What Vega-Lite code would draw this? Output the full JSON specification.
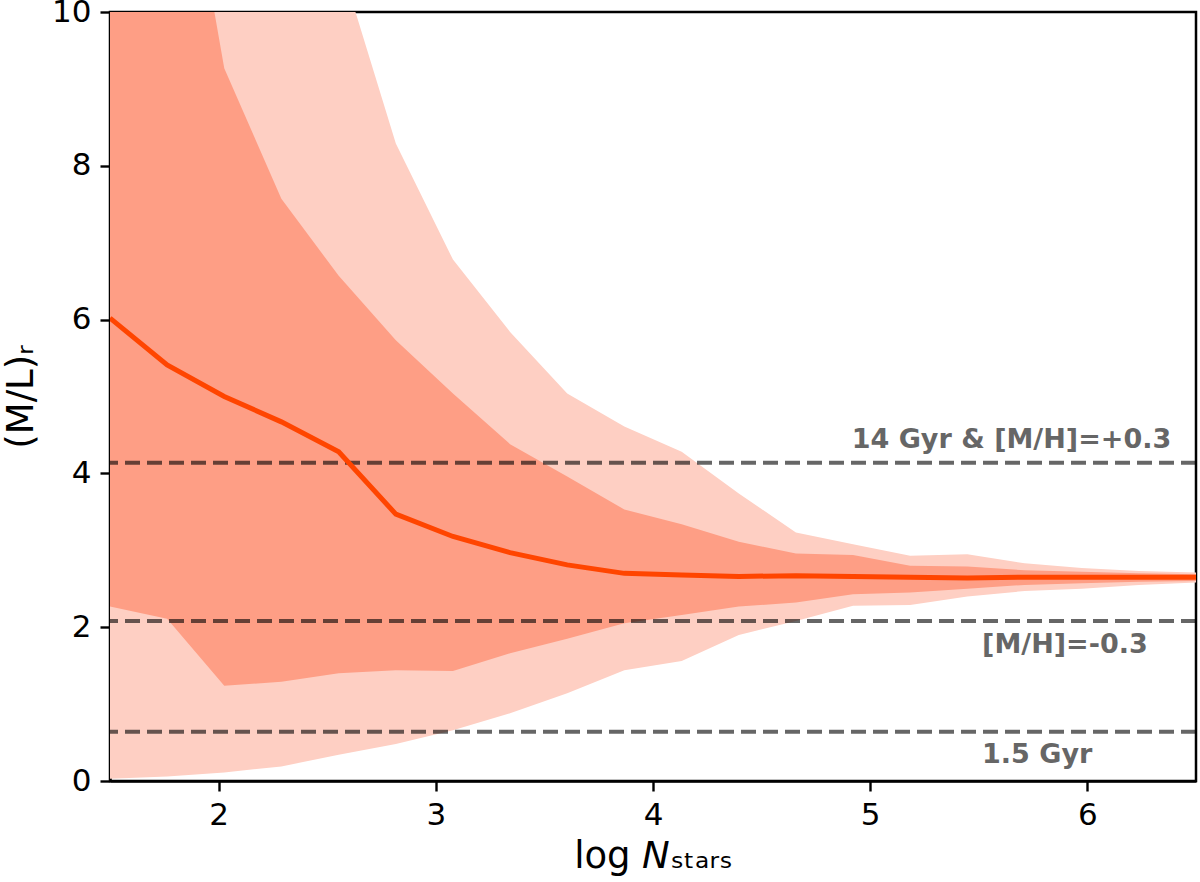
{
  "$schema": "https://vega.github.io/schema/vega-lite/v6.json",
  "width": 1086,
  "height": 769,
  "autosize": {"type": "none"},
  "padding": {"left": 110, "top": 12, "right": 4, "bottom": 101},
  "background": "#ffffff",
  "config": {
    "font": "DejaVu Sans",
    "view": {"stroke": "#000000", "strokeWidth": 2.5},
    "axis": {
      "grid": false,
      "domainColor": "#000000",
      "domainWidth": 2.5,
      "tickColor": "#000000",
      "tickWidth": 2.4,
      "tickSize": 10,
      "labelFont": "DejaVu Sans",
      "labelFontSize": 31,
      "labelColor": "#000000",
      "labelPadding": 9,
      "titleFont": "DejaVu Sans",
      "titleFontSize": 37,
      "titleFontWeight": "normal",
      "titleColor": "#000000"
    }
  },
  "datasets": {
    "mass_to_light": [
      {"logN": 1.5, "med": 6.02, "lo1": 2.27, "hi1": 16.0, "lo2": 0.03, "hi2": 30.0},
      {"logN": 1.763, "med": 5.41, "lo1": 2.11, "hi1": 13.5, "lo2": 0.06, "hi2": 24.0},
      {"logN": 2.026, "med": 5.0, "lo1": 1.24, "hi1": 9.27, "lo2": 0.11, "hi2": 18.0},
      {"logN": 2.289, "med": 4.67, "lo1": 1.29, "hi1": 7.57, "lo2": 0.19, "hi2": 14.0},
      {"logN": 2.553, "med": 4.28, "lo1": 1.4, "hi1": 6.57, "lo2": 0.34, "hi2": 10.71},
      {"logN": 2.816, "med": 3.47, "lo1": 1.44, "hi1": 5.73, "lo2": 0.48, "hi2": 8.29},
      {"logN": 3.079, "med": 3.18, "lo1": 1.43, "hi1": 5.04, "lo2": 0.66, "hi2": 6.78},
      {"logN": 3.342, "med": 2.97, "lo1": 1.66, "hi1": 4.38, "lo2": 0.88, "hi2": 5.84},
      {"logN": 3.605, "med": 2.81, "lo1": 1.85, "hi1": 3.96, "lo2": 1.14, "hi2": 5.04},
      {"logN": 3.868, "med": 2.7, "lo1": 2.05, "hi1": 3.53, "lo2": 1.44, "hi2": 4.61},
      {"logN": 4.132, "med": 2.68, "lo1": 2.16, "hi1": 3.34, "lo2": 1.56, "hi2": 4.28},
      {"logN": 4.395, "med": 2.66, "lo1": 2.27, "hi1": 3.11, "lo2": 1.9, "hi2": 3.74},
      {"logN": 4.658, "med": 2.67, "lo1": 2.32, "hi1": 2.96, "lo2": 2.08, "hi2": 3.23},
      {"logN": 4.921, "med": 2.66, "lo1": 2.43, "hi1": 2.94, "lo2": 2.28, "hi2": 3.08},
      {"logN": 5.184, "med": 2.65, "lo1": 2.45, "hi1": 2.8, "lo2": 2.29, "hi2": 2.93},
      {"logN": 5.447, "med": 2.64, "lo1": 2.5, "hi1": 2.79, "lo2": 2.4, "hi2": 2.95},
      {"logN": 5.711, "med": 2.65, "lo1": 2.55, "hi1": 2.74, "lo2": 2.47, "hi2": 2.83},
      {"logN": 5.974, "med": 2.65, "lo1": 2.57, "hi1": 2.72, "lo2": 2.5, "hi2": 2.77},
      {"logN": 6.237, "med": 2.65, "lo1": 2.59, "hi1": 2.7, "lo2": 2.55, "hi2": 2.73},
      {"logN": 6.5, "med": 2.65, "lo1": 2.6, "hi1": 2.69, "lo2": 2.58, "hi2": 2.71}
    ],
    "reference_models": [
      {"ml": 4.14},
      {"ml": 2.08},
      {"ml": 0.64}
    ],
    "model_labels": [
      {"logN": 4.915, "ml": 4.33, "name": "14 Gyr & [M/H]=+0.3"},
      {"logN": 5.515, "ml": 1.66, "name": "[M/H]=-0.3"},
      {"logN": 5.515, "ml": 0.23, "name": "1.5 Gyr"}
    ]
  },
  "layer": [
    {
      "data": {"name": "mass_to_light"},
      "mark": {"type": "area", "color": "#FECFC3", "opacity": 1, "clip": true},
      "encoding": {
        "x": {
          "field": "logN",
          "type": "quantitative",
          "scale": {"domain": [1.5, 6.5], "nice": false, "zero": false},
          "axis": {"values": [2, 3, 4, 5, 6], "format": "d", "title": "log 𝘕ₛₜₐᵣₛ", "titlePadding": 8}
        },
        "y": {
          "field": "hi2",
          "type": "quantitative",
          "scale": {"domain": [0, 10], "nice": false},
          "axis": {"values": [0, 2, 4, 6, 8, 10], "format": "d", "title": "(M/L)ᵣ", "titlePadding": 11}
        },
        "y2": {"field": "lo2"}
      }
    },
    {
      "data": {"name": "mass_to_light"},
      "mark": {"type": "area", "color": "#FE9E85", "opacity": 1, "clip": true},
      "encoding": {
        "x": {"field": "logN", "type": "quantitative"},
        "y": {"field": "hi1", "type": "quantitative"},
        "y2": {"field": "lo1"}
      }
    },
    {
      "data": {"name": "reference_models"},
      "mark": {"type": "rule", "color": "#000000", "opacity": 0.6, "strokeWidth": 4, "strokeDash": [15, 7]},
      "encoding": {
        "y": {"field": "ml", "type": "quantitative"}
      }
    },
    {
      "data": {"name": "mass_to_light"},
      "mark": {"type": "line", "color": "#FF4500", "strokeWidth": 5, "clip": true},
      "encoding": {
        "x": {"field": "logN", "type": "quantitative"},
        "y": {"field": "med", "type": "quantitative"}
      }
    },
    {
      "data": {"name": "model_labels"},
      "mark": {"type": "text", "font": "DejaVu Sans", "fontWeight": "bold", "fontSize": 27, "color": "#666666", "align": "left", "baseline": "alphabetic"},
      "encoding": {
        "x": {"field": "logN", "type": "quantitative"},
        "y": {"field": "ml", "type": "quantitative"},
        "text": {"field": "name"}
      }
    }
  ]
}
